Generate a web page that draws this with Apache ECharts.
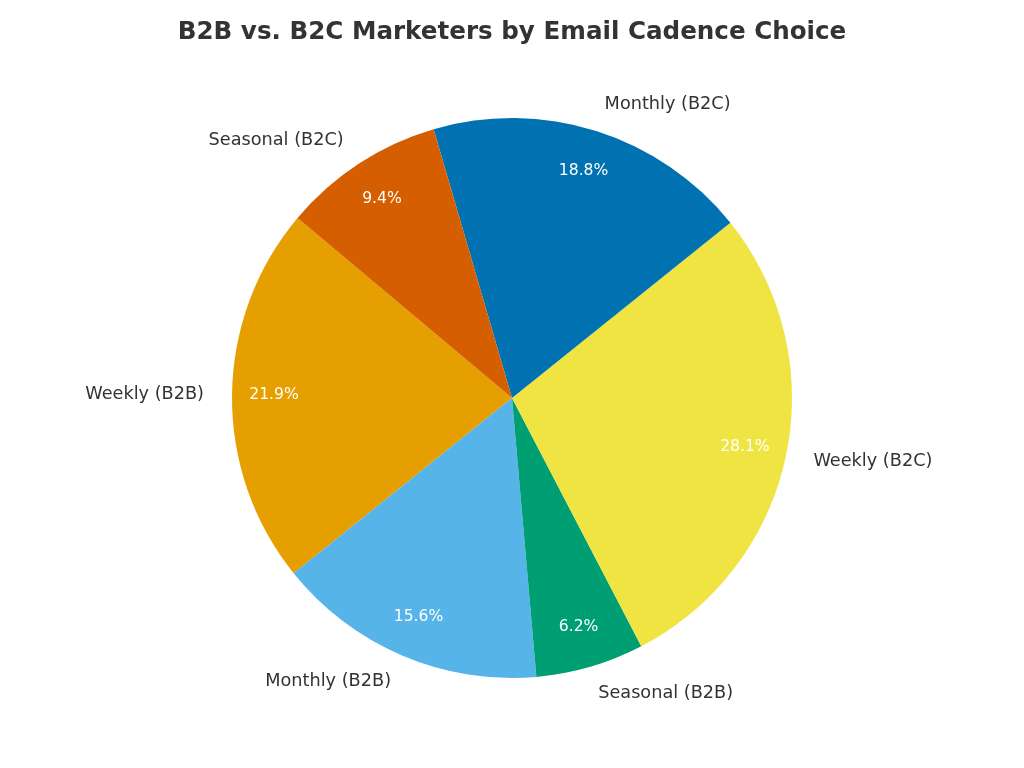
<!DOCTYPE html>
<html>
<head>
<meta charset="utf-8">
<script src="https://cdn.jsdelivr.net/npm/echarts@6/dist/echarts.min.js"></script>
<style>
  html, body { margin: 0; padding: 0; background: #fff; }
  #chart { width: 1024px; height: 768px; }
</style>
</head>
<body>
<div id="chart"></div>
<script>
// slice data, counter-clockwise from the start angle
const categories = ['Weekly (B2B)', 'Monthly (B2B)', 'Seasonal (B2B)', 'Weekly (B2C)', 'Monthly (B2C)', 'Seasonal (B2C)'];
const counts = [7, 5, 2, 9, 6, 3];
const colors = ['#E69F00', '#56B4E9', '#009E73', '#F0E442', '#0072B2', '#D55E00'];

const total = counts.reduce((a, b) => a + b, 0);
const FONT = 'DejaVu Sans';

/**
 * one decimal, ties to even (6.25 -> 6.2, 18.75 -> 18.8)
 */
function pctText(v) {
  const x = v / total * 1000;
  let r = Math.round(x);
  if (Math.abs(x - Math.floor(x) - 0.5) < 1e-9) {
    r = Math.floor(x) % 2 === 0 ? Math.floor(x) : Math.floor(x) + 1;
  }
  return (r / 10).toFixed(1) + '%';
}

function sliceData() {
  return categories.map((name, i) => ({
    name: name,
    value: counts[i],
    itemStyle: { color: colors[i] }
  }));
}

const chart = echarts.init(document.getElementById('chart'), null, { renderer: 'canvas' });

const option = {
  backgroundColor: '#ffffff',
  animation: false,
  title: {
    text: 'B2B vs. B2C Marketers by Email Cadence Choice',
    left: 'center',
    top: 15,
    textStyle: { fontFamily: FONT, fontSize: 24.6, fontWeight: 'bold', color: '#333333' }
  },
  series: [
    {
      // the pie itself + category labels outside
      type: 'pie',
      center: [512, 398],
      radius: [0, 280],
      startAngle: 140,
      clockwise: false,
      avoidLabelOverlap: false,
      silent: true,
      data: sliceData(),
      label: {
        show: true,
        position: 'outside',
        formatter: '{b}',
        fontFamily: FONT,
        fontSize: 17.7,
        color: '#333333',
        distanceToLabelLine: 0
      },
      labelLine: { show: false, length: 28, length2: 0 }
    },
    {
      // transparent ring only used to place the percent labels near 0.85 r
      type: 'pie',
      center: [512, 398],
      radius: [190, 280],
      startAngle: 140,
      clockwise: false,
      silent: true,
      data: categories.map((name, i) => ({ name: name, value: counts[i] })),
      itemStyle: { color: 'rgba(0,0,0,0)' },
      label: {
        show: true,
        position: 'inside',
        formatter: p => pctText(p.value),
        fontFamily: FONT,
        fontSize: 15.6,
        color: '#ffffff'
      },
      labelLine: { show: false }
    }
  ]
};

chart.setOption(option);
</script>
</body>
</html>
